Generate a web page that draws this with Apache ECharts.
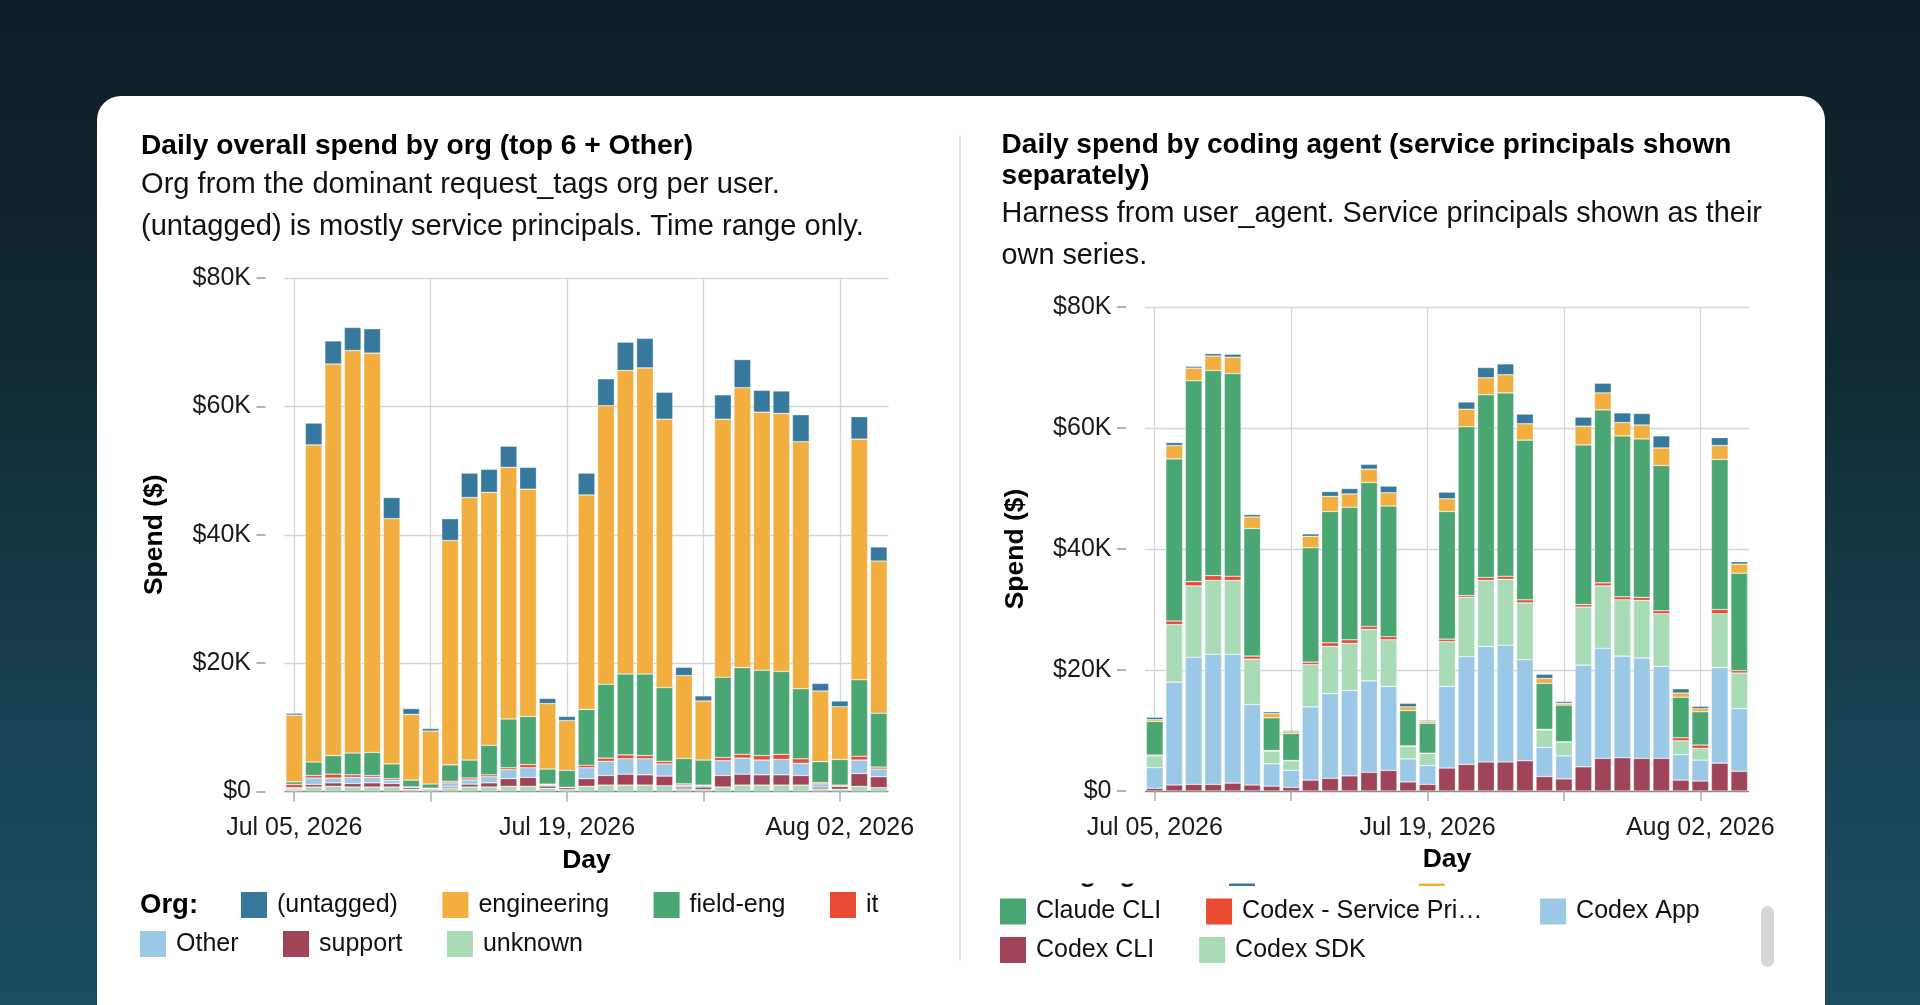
<!DOCTYPE html>
<html>
<head>
<meta charset="utf-8">
<title>Daily spend</title>
<script src="https://cdn.jsdelivr.net/npm/echarts@6/dist/echarts.min.js"></script>
<style>
  html, body { margin: 0; padding: 0; width: 1920px; height: 1005px; overflow: hidden; }
  body { background: linear-gradient(180deg, #0e1e25 0%, #102a33 35%, #184454 75%, #1c4f60 100%); position: relative; }
  .card { position: absolute; left: 97px; top: 96px; width: 1728px; height: 960px; background: #fff; border-radius: 24px; }
  .divider { position: absolute; left: 959px; top: 135px; width: 1.5px; height: 826px; background: #e3e3e3; }
  .scroll { position: absolute; left: 1761px; top: 906px; width: 13px; height: 61px; border-radius: 7px; background: #d6d6d6; }
  #main { position: absolute; left: 0; top: 0; width: 1920px; height: 1005px; }
</style>
</head>
<body>
<div class="card"></div>
<div class="divider"></div>
<div class="scroll"></div>
<div id="main"></div>
<script>
// days shown on both charts
var days = ['2026-07-05', '2026-07-06', '2026-07-07', '2026-07-08', '2026-07-09', '2026-07-10', '2026-07-11',
            '2026-07-12', '2026-07-13', '2026-07-14', '2026-07-15', '2026-07-16', '2026-07-17', '2026-07-18',
            '2026-07-19', '2026-07-20', '2026-07-21', '2026-07-22', '2026-07-23', '2026-07-24', '2026-07-25',
            '2026-07-26', '2026-07-27', '2026-07-28', '2026-07-29', '2026-07-30', '2026-07-31', '2026-08-01',
            '2026-08-02', '2026-08-03', '2026-08-04'];
var monthNames = ['Jan', 'Feb', 'Mar', 'Apr', 'May', 'Jun', 'Jul', 'Aug', 'Sep', 'Oct', 'Nov', 'Dec'];
var spendTicks = [0, 20, 40, 60, 80]; // $K

// left chart: spend by org, $K per day
var orgUnknown  = [0.25, 0.7, 0.8, 0.7, 0.7, 0.7, 0.35, 0.3, 0.55, 0.7, 0.7, 0.8, 0.8, 0.5, 0.3, 0.8, 1.0, 1.0, 1.0, 0.9, 0.4, 0.3, 0.7, 1.0, 1.0, 1.0, 1.0, 0.4, 0.35, 0.8, 0.6];
var orgSupport  = [0.15, 0.4, 0.55, 0.55, 0.65, 0.55, 0.3, 0.15, 0.25, 0.45, 0.65, 1.2, 1.4, 0.35, 0.3, 1.2, 1.5, 1.7, 1.6, 1.5, 0.3, 0.4, 1.8, 1.7, 1.6, 1.6, 1.5, 0.3, 0.45, 2.0, 1.7];
var orgOther    = [0.2, 1.0, 0.75, 0.95, 0.85, 0.5, 0.05, 0.05, 0.55, 0.65, 0.95, 1.4, 1.5, 0.2, 0.03, 1.7, 2.2, 2.4, 2.5, 1.9, 0.3, 0.27, 2.3, 2.5, 2.3, 2.4, 1.9, 0.5, 0.05, 2.1, 1.2];
var orgIt       = [0.5, 0.4, 0.6, 0.4, 0.3, 0.25, 0.02, 0.02, 0.25, 0.3, 0.3, 0.3, 0.5, 0.1, 0.02, 0.4, 0.5, 0.6, 0.5, 0.4, 0.2, 0.03, 0.5, 0.6, 0.7, 0.8, 0.7, 0.2, 0.15, 0.6, 0.3];
var orgFieldEng = [0.4, 2.1, 2.9, 3.4, 3.6, 2.3, 1.05, 0.65, 2.55, 2.8, 4.6, 7.6, 7.5, 2.35, 2.65, 8.7, 11.5, 12.6, 12.7, 11.5, 3.95, 3.9, 12.5, 13.5, 13.3, 12.9, 10.9, 3.25, 4.0, 11.9, 8.4];
var orgEng      = [10.4, 49.4, 61.0, 62.7, 62.2, 38.2, 10.25, 8.25, 34.95, 40.9, 39.4, 39.2, 35.4, 10.2, 7.75, 33.4, 43.4, 47.3, 47.7, 41.8, 12.9, 9.2, 40.2, 43.6, 40.2, 40.2, 38.5, 11.0, 8.2, 37.5, 23.7];
var orgUntagged = [0.3, 3.4, 3.6, 3.6, 3.8, 3.3, 0.9, 0.4, 3.4, 3.8, 3.6, 3.3, 3.4, 0.8, 0.65, 3.4, 4.2, 4.4, 4.6, 4.2, 1.3, 0.8, 3.8, 4.4, 3.4, 3.5, 4.2, 1.2, 0.9, 3.5, 2.2];

// right chart: spend by coding agent, $K per day
var codexCli   = [0.45, 1.0, 1.1, 1.1, 1.3, 1.0, 0.8, 0.6, 1.8, 2.1, 2.5, 3.1, 3.4, 1.5, 1.1, 3.8, 4.4, 4.8, 4.8, 5.0, 2.4, 2.0, 4.0, 5.4, 5.5, 5.4, 5.4, 1.8, 1.65, 4.6, 3.25];
var codexApp   = [3.4, 17.0, 21.0, 21.5, 21.3, 13.3, 3.7, 2.8, 12.1, 14.0, 14.1, 15.1, 13.9, 3.8, 3.1, 13.5, 17.8, 19.1, 19.3, 16.7, 4.8, 3.8, 16.8, 18.2, 16.8, 16.6, 15.2, 4.2, 3.45, 15.8, 10.35];
var codexSdk   = [1.95, 9.5, 11.8, 12.2, 12.2, 7.5, 2.1, 1.6, 7.0, 7.8, 7.8, 8.5, 7.7, 2.1, 2.0, 7.4, 9.8, 10.9, 10.9, 9.4, 2.9, 2.3, 9.6, 10.3, 9.3, 9.5, 8.7, 2.3, 1.95, 8.9, 5.9];
var codexSp    = [0.15, 0.6, 0.7, 0.8, 0.7, 0.5, 0.1, 0.05, 0.4, 0.6, 0.6, 0.5, 0.5, 0.05, 0.05, 0.4, 0.3, 0.5, 0.5, 0.5, 0.1, 0.05, 0.4, 0.5, 0.5, 0.5, 0.5, 0.5, 0.55, 0.7, 0.4];
var claudeCli  = [5.55, 26.8, 33.2, 33.9, 33.5, 21.1, 5.4, 4.45, 18.9, 21.7, 21.9, 23.8, 21.6, 5.85, 4.95, 21.1, 27.9, 30.2, 30.3, 26.4, 7.6, 6.05, 26.4, 28.6, 26.6, 26.2, 24.0, 6.7, 5.5, 24.8, 16.1];
var claudeCode = [0.3, 2.2, 2.1, 2.4, 2.7, 1.9, 0.7, 0.3, 1.9, 2.5, 2.2, 2.2, 2.2, 0.6, 0.3, 2.1, 2.9, 2.8, 3.0, 2.7, 0.8, 0.3, 3.1, 2.8, 2.2, 2.3, 2.9, 0.7, 0.5, 2.3, 1.5];
var claudeAi   = [0.4, 0.5, 0.3, 0.4, 0.5, 0.4, 0.3, 0.2, 0.4, 0.8, 0.9, 0.8, 1.1, 0.6, 0.2, 1.1, 1.2, 1.7, 1.8, 1.6, 0.7, 0.3, 1.5, 1.6, 1.6, 1.9, 2.0, 0.7, 0.4, 1.3, 0.4];

var FONT = 'Liberation Sans, Arial, Helvetica, sans-serif';
var C = {
  blue: '#37799d', orange: '#f2ae3e', green: '#4aa673', red: '#e84b32',
  ltblue: '#9ac8e6', maroon: '#9f4459', ltgreen: '#a9dbb7'
};

function dayLabel(d) {
  var p = d.split('-');
  return monthNames[+p[1] - 1] + ' ' + p[2] + ', ' + p[0];
}
function weekly(i) { return i % 7 === 0; }
function biweekly(i) { return i % 14 === 0; }

function dayAxis(gridIndex) {
  return {
    type: 'category', gridIndex: gridIndex, data: days, offset: 9,
    axisLine: { show: false },
    axisTick: { show: true, alignWithLabel: true, interval: weekly, length: 10, lineStyle: { color: '#aaa', width: 1.5 } },
    axisLabel: { interval: biweekly, formatter: dayLabel, fontSize: 25, color: '#1a1a1a', margin: 15.5, fontFamily: FONT },
    splitLine: { show: true, interval: weekly, alignWithLabel: true, lineStyle: { color: '#d6d6d6', width: 1.3 } },
    name: 'Day', nameLocation: 'middle', nameGap: 46.5,
    nameTextStyle: { fontSize: 26.5, fontWeight: 'bold', color: '#000', fontFamily: FONT }
  };
}

function spendAxis(gridIndex) {
  return {
    type: 'value', gridIndex: gridIndex,
    min: spendTicks[0], max: spendTicks[spendTicks.length - 1], interval: spendTicks[1] - spendTicks[0],
    offset: 19,
    axisLine: { show: false },
    axisTick: { show: true, length: 9, lineStyle: { color: '#999', width: 1.5 } },
    axisLabel: {
      formatter: function (v) { return v === 0 ? '$0' : '$' + v + 'K'; },
      fontSize: 25, color: '#1a1a1a', margin: 14.5, fontFamily: FONT
    },
    splitLine: { lineStyle: { color: ['#888', '#d6d6d6', '#d6d6d6', '#d6d6d6', '#d6d6d6'], width: 1.3 } },
    name: 'Spend ($)', nameLocation: 'middle', nameRotate: 90, nameGap: 97,
    nameTextStyle: { fontSize: 26.5, fontWeight: 'bold', color: '#000', fontFamily: FONT }
  };
}

function barSeries(name, data, color, stack, axisIndex) {
  return {
    type: 'bar', name: name, data: data, stack: stack,
    xAxisIndex: axisIndex, yAxisIndex: axisIndex,
    barWidth: '86%',
    itemStyle: { color: color, borderColor: 'rgba(255,255,255,0.5)', borderWidth: 0.6 },
    emphasis: { disabled: true }
  };
}

// bottom of the stack first
var series = [
  barSeries('unknown', orgUnknown, C.ltgreen, 'org', 0),
  barSeries('support', orgSupport, C.maroon, 'org', 0),
  barSeries('Other', orgOther, C.ltblue, 'org', 0),
  barSeries('it', orgIt, C.red, 'org', 0),
  barSeries('field-eng', orgFieldEng, C.green, 'org', 0),
  barSeries('engineering', orgEng, C.orange, 'org', 0),
  barSeries('(untagged)', orgUntagged, C.blue, 'org', 0),

  barSeries('Codex CLI', codexCli, C.maroon, 'agent', 1),
  barSeries('Codex App', codexApp, C.ltblue, 'agent', 1),
  barSeries('Codex SDK', codexSdk, C.ltgreen, 'agent', 1),
  barSeries('Codex - Service Principals', codexSp, C.red, 'agent', 1),
  barSeries('Claude CLI', claudeCli, C.green, 'agent', 1),
  barSeries('Claude Code', claudeCode, C.orange, 'agent', 1),
  barSeries('Claude AI', claudeAi, C.blue, 'agent', 1)
];

function legendRow(left, top, data, extra) {
  var l = {
    left: left, top: top, padding: 0, orient: 'horizontal',
    icon: 'rect', itemWidth: 26, itemHeight: 26, itemGap: 44.5,
    selectedMode: false,
    itemStyle: { borderWidth: 0 },
    textStyle: { fontSize: 25, color: '#111', lineHeight: 26, padding: [0, 0, 0, 5], fontFamily: FONT },
    formatter: function (name) { return name.length > 19 ? name.slice(0, 19) + '…' : name; },
    data: data
  };
  for (var k in extra) l[k] = extra[k];
  return l;
}

var chart = echarts.init(document.getElementById('main'), null, { renderer: 'canvas' });
chart.setOption({
  animation: false,
  backgroundColor: 'transparent',
  textStyle: { fontFamily: FONT },
  title: [
    {
      left: 141, top: 130.5, padding: 0, itemGap: 2,
      text: 'Daily overall spend by org (top 6 + Other)',
      subtext: 'Org from the dominant request_tags org per user.\n(untagged) is mostly service principals. Time range only.',
      textStyle: { fontSize: 28.2, fontWeight: 'bold', color: '#000', lineHeight: 31, fontFamily: FONT },
      subtextStyle: { fontSize: 29.1, color: '#111', lineHeight: 42, fontFamily: FONT }
    },
    {
      left: 1001.6, top: 129.5, padding: 0, itemGap: 2,
      text: 'Daily spend by coding agent (service principals shown\nseparately)',
      subtext: 'Harness from user_agent. Service principals shown as their\nown series.',
      textStyle: { fontSize: 28, fontWeight: 'bold', color: '#000', lineHeight: 31, fontFamily: FONT },
      subtextStyle: { fontSize: 28.8, color: '#111', lineHeight: 42, fontFamily: FONT }
    }
  ],
  grid: [
    { left: 284.5, top: 278, width: 604, height: 513.5, outerBoundsMode: 'none' },
    { left: 1145, top: 307, width: 604, height: 484, outerBoundsMode: 'none' }
  ],
  xAxis: [dayAxis(0), dayAxis(1)],
  yAxis: [spendAxis(0), spendAxis(1)],
  legend: [
    legendRow(241, 892, ['(untagged)', 'engineering', 'field-eng', 'it']),
    legendRow(140, 931, ['Other', 'support', 'unknown']),
    // first row of the scrolled legend, mostly hidden under the mask below
    legendRow(1229, 860, ['Claude AI', 'Claude Code'], { z: -2, itemGap: 44 }),
    legendRow(1000, 898.5, ['Claude CLI', { name: 'Codex - Service Principals', textStyle: { width: 253 } }, 'Codex App'], { itemGap: 45 }),
    legendRow(1000, 937, ['Codex CLI', 'Codex SDK'], { itemGap: 45 })
  ],
  graphic: [
    {
      type: 'text', z: 1, x: 140, y: 905,
      style: { text: 'Org:', fill: '#000', verticalAlign: 'middle', font: 'bold 27.5px ' + FONT }
    },
    {
      type: 'text', z: -2, x: 1001.6, y: 873,
      style: { text: 'Coding agent:', fill: '#000', verticalAlign: 'middle', font: 'bold 27.5px ' + FONT }
    },
    {
      type: 'rect', z: -1, shape: { x: 990, y: 848, width: 770, height: 35.5 },
      style: { fill: '#fff' }
    }
  ],
  series: series
});
</script>
</body>
</html>
